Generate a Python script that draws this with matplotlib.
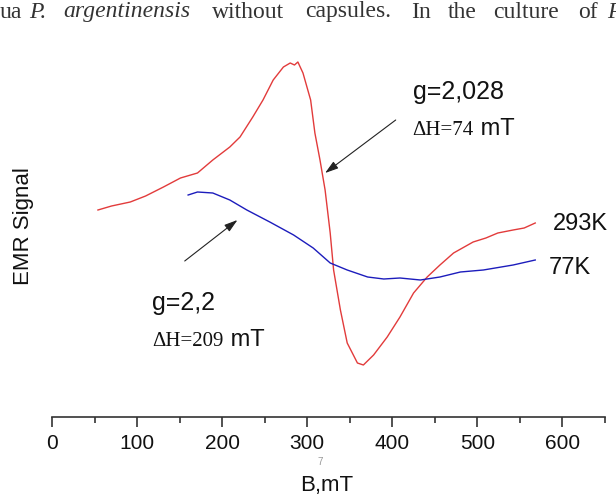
import matplotlib
matplotlib.use("Agg")
from matplotlib import pyplot as plt
from matplotlib.ticker import MultipleLocator

# EMR spectra, field in mT, signal in arbitrary units
B_293 = [54, 70, 92, 110, 131, 151, 171, 189, 209, 221, 236, 248, 260, 272, 280,
         285, 289, 295, 304, 309, 315, 321, 327, 331, 339, 347, 359, 366, 378,
         394, 409, 425, 441, 456, 472, 495, 510, 524, 542, 555, 568]
S_293 = [207, 211, 215, 221, 230, 239, 244, 257, 270, 280, 300, 317, 337, 350,
         354, 352, 355, 344, 317, 284, 257, 227, 184, 147, 107, 74, 54, 52, 62,
         80, 100, 124, 140, 152, 164, 175, 179, 184, 187, 189, 194]

B_77 = [160, 171, 189, 209, 229, 256, 284, 307, 327, 347, 371, 390, 409, 433,
        456, 480, 507, 542, 568]
S_77 = [222, 225, 224, 217, 207, 195, 182, 169, 154, 147, 140, 138, 139, 137,
        140, 145, 147, 152, 157]

# top line of the page text: (word, left edge in px, italic)
page_words = [("ua", 0, False), ("P.", 29, True), ("argentinensis", 63, True),
              ("without", 212, False), ("capsules.", 305, False), ("In", 411, False),
              ("the", 448, False), ("culture", 493, False), ("of", 578, False),
              ("P", 607, True)]

W, H = 616, 494
fig = plt.figure(figsize=(W / 100, H / 100), dpi=100)
ax = fig.add_axes([52 / W, 77 / H, 553 / W, 377 / H])

sans = "Liberation Sans"
serif = "Liberation Serif"

ax.plot(B_293, S_293, color="#e23b3b", lw=1.0)
ax.plot(B_77, S_77, color="#1c1cbc", lw=1.0)

ax.set_xlim(0, 650)
ax.set_ylim(0, 377)
for side in ("left", "right", "top"):
    ax.spines[side].set_visible(False)
ax.spines["bottom"].set_linewidth(1.2)
ax.spines["bottom"].set_color("#333333")
ax.set_yticks([])
ax.xaxis.set_major_locator(MultipleLocator(100))
ax.xaxis.set_minor_locator(MultipleLocator(50))
ax.set_xticks(range(0, 601, 100))
ax.tick_params(axis="x", which="major", length=7, width=1.2, color="#333333",
               pad=5, labelsize=15)
ax.tick_params(axis="x", which="minor", length=4, width=1.2, color="#333333")
for lab in ax.get_xticklabels():
    lab.set_fontfamily(sans)
    lab.set_color("#111111")

fig.text(24 / W, 1 - 226 / H, "EMR Signal", rotation=90, ha="center", va="center",
         fontsize=16, family=sans, color="#111111")
fig.text(327 / W, 1 - 485 / H, "B,mT", ha="center", va="center",
         fontsize=16, family=sans, color="#111111")
fig.text(320 / W, 1 - 462 / H, "7", ha="center", va="center",
         fontsize=7, family=sans, color="#999999")

# line labels
ax.text(589, 193, "293K", fontsize=17, family=sans, va="center", color="#111111")
ax.text(584, 149, "77K", fontsize=17, family=sans, va="center", color="#111111")


def line_params(x, y, g_text, dh_text):
    ax.text(x, y, g_text, fontsize=18, family=sans, va="center", color="#111111")
    t1 = ax.text(x, y - 38, dh_text, fontsize=15, family=serif, va="center",
                 color="#111111")
    ax.annotate(" mT", xy=(1, 0), xycoords=t1, va="bottom", ha="left",
                fontsize=17, family=sans, color="#111111")


line_params(424, 325, "g=2,028", "\u0394H=74")
line_params(118, 114, "g=2,2", "\u0394H=209")

arrow = dict(arrowstyle="-|>,head_length=0.8,head_width=0.25", color="#222222",
             lw=0.8, shrinkA=0, shrinkB=0)
ax.annotate("", xy=(321, 244), xytext=(404, 297), arrowprops=arrow)
ax.annotate("", xy=(218, 197), xytext=(156, 156), arrowprops=arrow)

for word, px, italic in page_words:
    fig.text(px / W, 1 - 12 / H, word, fontsize=17, family=serif,
             style="italic" if italic else "normal", va="center", ha="left",
             color="#333333")

fig.savefig("out.png", dpi=100, facecolor="white")
